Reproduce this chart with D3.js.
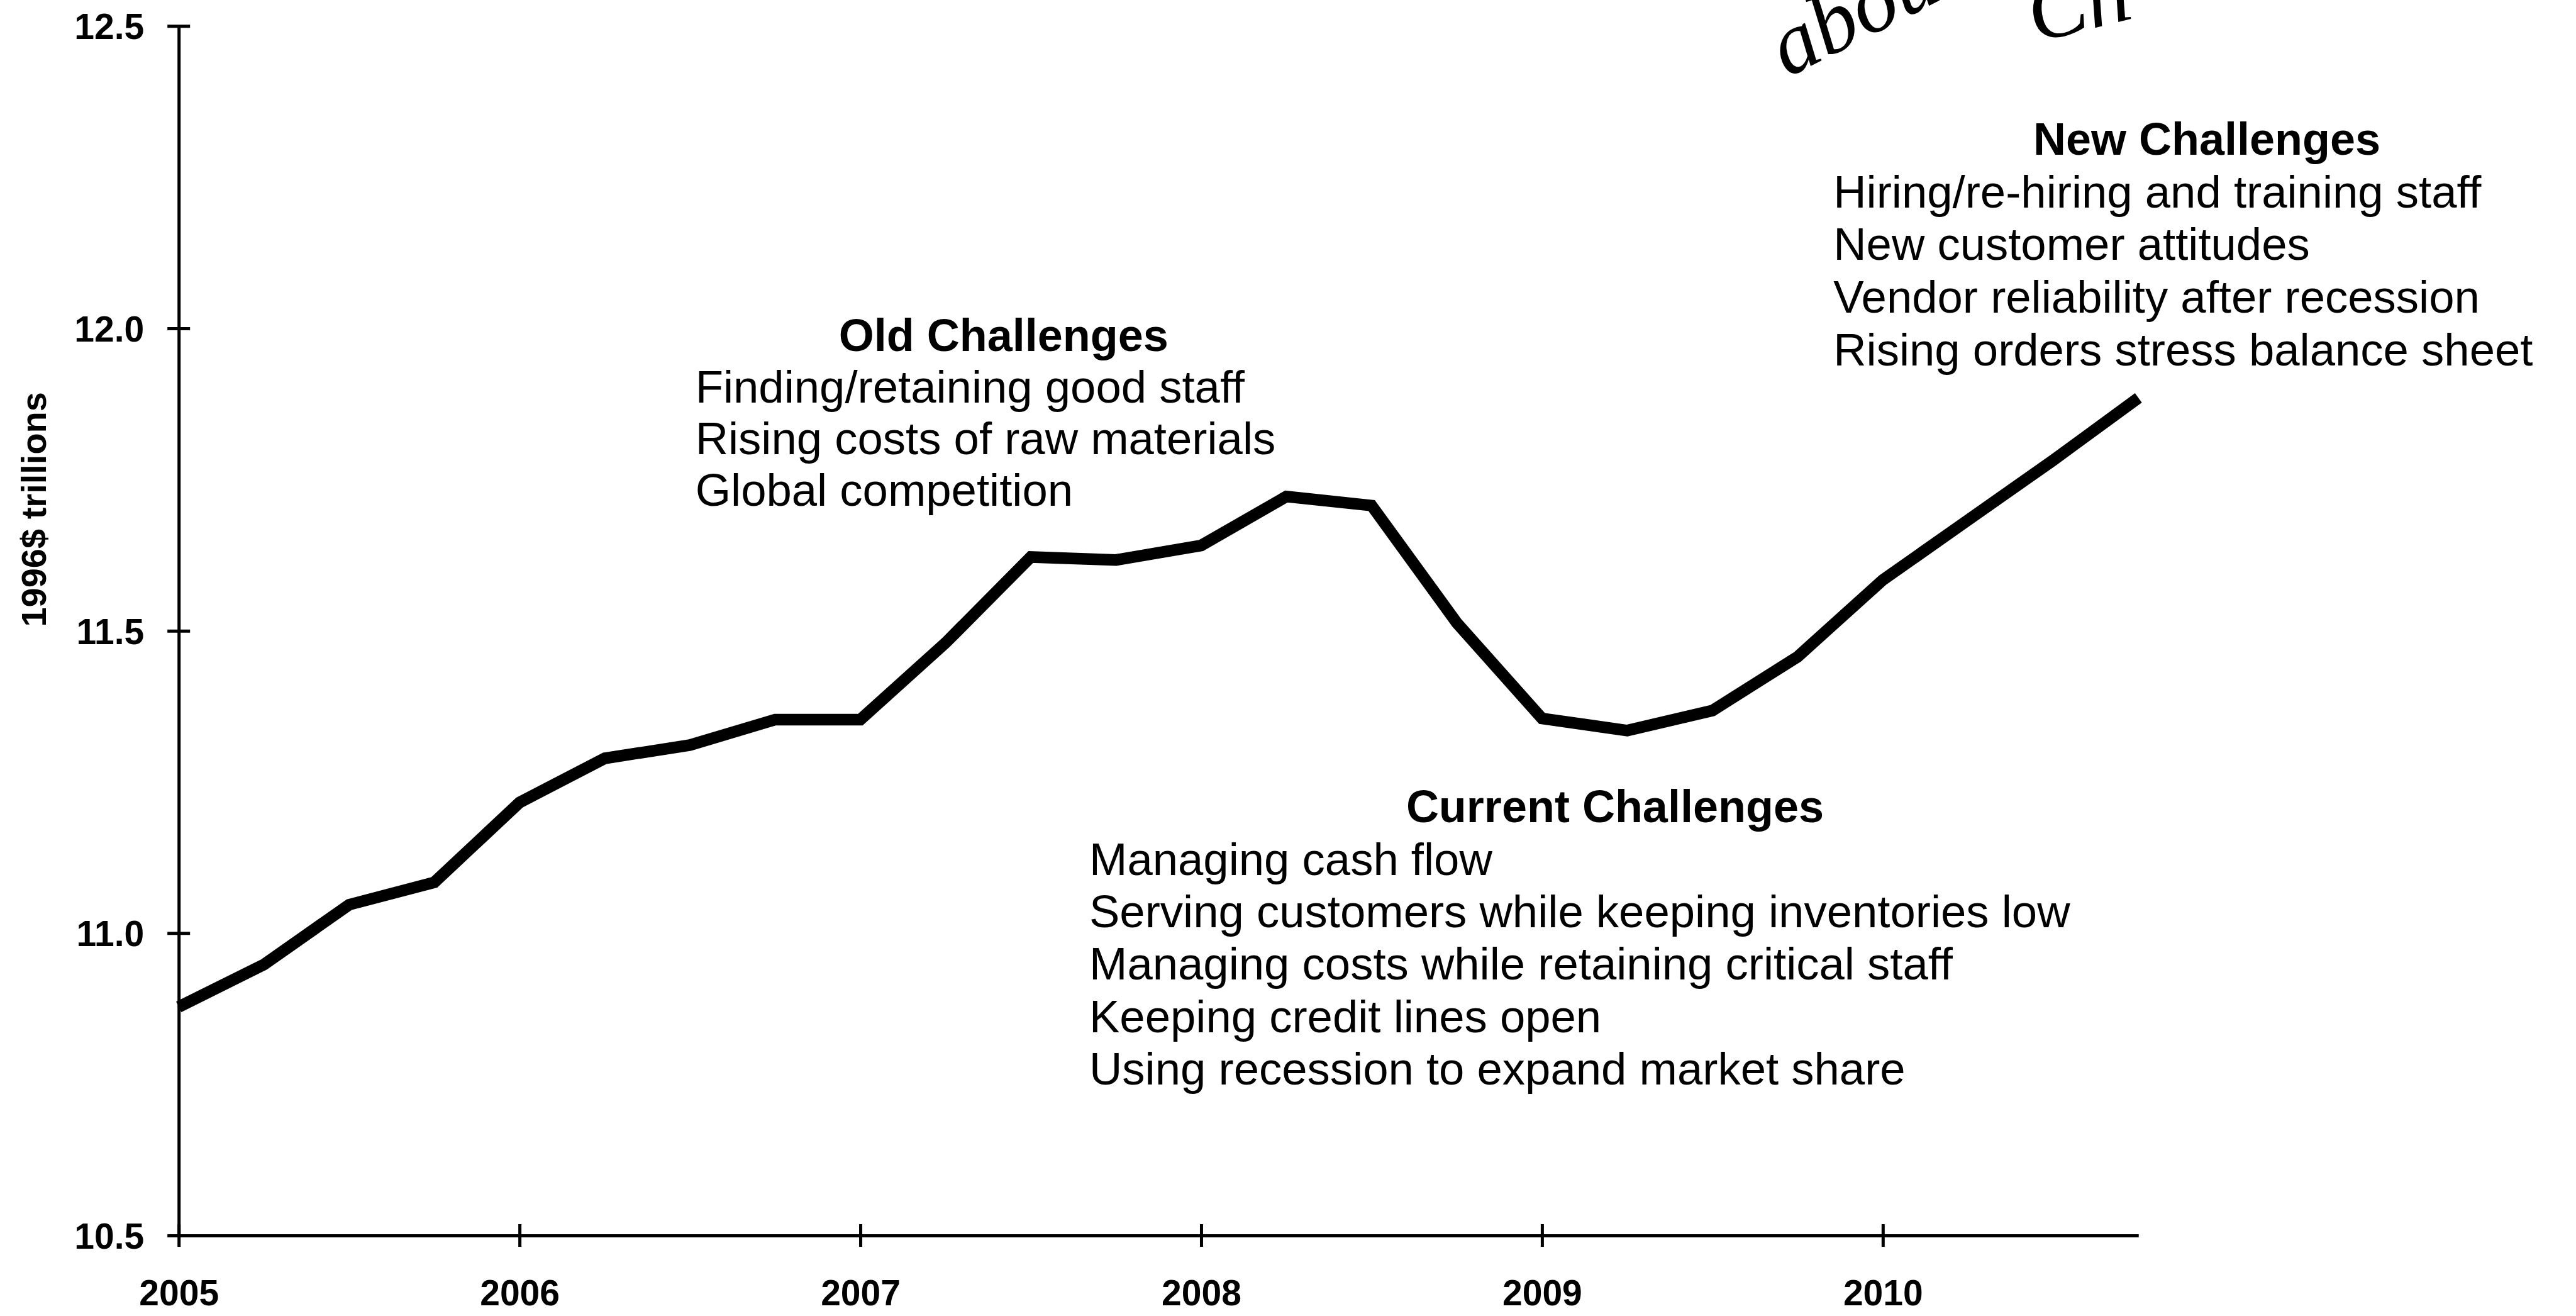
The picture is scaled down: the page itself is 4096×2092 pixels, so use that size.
<!DOCTYPE html>
<html>
<head>
<meta charset="utf-8">
<script src="https://cdn.jsdelivr.net/npm/d3@7"></script>
<style>
  html, body { margin:0; padding:0; background:#fff; }
  svg { display:block; }
</style>
</head>
<body>
<div class="viz"></div>
<script>
const width = 4096;
const height = 2092;
const S = 0.725; // reference px -> window px

// quarterly real GDP, 1996$ trillions
const quarters = [
  2005.00, 2005.25, 2005.50, 2005.75,
  2006.00, 2006.25, 2006.50, 2006.75,
  2007.00, 2007.25, 2007.50, 2007.75,
  2008.00, 2008.25, 2008.50, 2008.75,
  2009.00, 2009.25, 2009.50, 2009.75,
  2010.00, 2010.25, 2010.50, 2010.75
];
const gdp = [
  10.878, 10.948, 11.047, 11.084,
  11.216, 11.289, 11.311, 11.353,
  11.353, 11.480, 11.622, 11.617,
  11.641, 11.722, 11.707, 11.513,
  11.355, 11.335, 11.368, 11.457,
  11.584, 11.683, 11.782, 11.885
];
const yearTicks = [2005, 2006, 2007, 2008, 2009, 2010];
const valueTicks = [10.5, 11.0, 11.5, 12.0, 12.5];
const yTitle = '1996$ trillions';

const oldTitle = 'Old Challenges';
const oldItems = [
  'Finding/retaining good staff',
  'Rising costs of raw materials',
  'Global competition'
];
const currentTitle = 'Current Challenges';
const currentItems = [
  'Managing cash flow',
  'Serving customers while keeping inventories low',
  'Managing costs while retaining critical staff',
  'Keeping credit lines open',
  'Using recession to expand market share'
];
const newTitle = 'New Challenges';
const newItems = [
  'Hiring/re-hiring and training staff',
  'New customer attitudes',
  'Vendor reliability after recession',
  'Rising orders stress balance sheet'
];
const scribble = ['about', 'Ch'];

const font = '"Liberation Sans", Arial, Helvetica, sans-serif';

const x = d3.scaleLinear()
  .domain([2005, 2010.75])
  .range([392*S, 4690*S]);

const y = d3.scaleLinear()
  .domain([10.5, 12.5])
  .range([2709*S, 57*S]);

const svg = d3.select('.viz')
  .append('svg')
    .attr('width', width)
    .attr('height', height)
    .attr('viewBox', `0 0 ${width} ${height}`);

svg.append('rect')
  .attr('width', width)
  .attr('height', height)
  .attr('fill', '#fff');

const tickHalf = 18;
const axisWidth = 5;

// y axis
const yAxis = svg.append('g')
  .attr('class', 'y-axis')
  .attr('transform', `translate(${x(2005)},0)`)
  .call(d3.axisLeft(y).tickValues(valueTicks).tickSize(tickHalf).tickSizeOuter(0)
    .tickFormat(d3.format('.1f')));

yAxis.select('.domain')
  .attr('stroke', '#000')
  .attr('stroke-width', axisWidth);
yAxis.selectAll('.tick line')
  .attr('x1', -tickHalf)
  .attr('x2', tickHalf)
  .attr('stroke', '#000')
  .attr('stroke-width', axisWidth);
yAxis.selectAll('.tick text')
  .attr('x', -55)
  .attr('dy', '0.36em')
  .attr('fill', '#000')
  .style('font-family', font)
  .style('font-weight', 'bold')
  .style('font-size', '57px');

// x axis
const xAxis = svg.append('g')
  .attr('class', 'x-axis')
  .attr('transform', `translate(0,${y(10.5)})`)
  .call(d3.axisBottom(x).tickValues(yearTicks).tickSize(tickHalf).tickSizeOuter(0)
    .tickFormat(d3.format('d')));

xAxis.select('.domain')
  .attr('stroke', '#000')
  .attr('stroke-width', axisWidth);
xAxis.selectAll('.tick line')
  .attr('y1', -tickHalf)
  .attr('y2', tickHalf)
  .attr('stroke', '#000')
  .attr('stroke-width', axisWidth);
xAxis.selectAll('.tick text')
  .attr('y', 111)
  .attr('dy', 0)
  .attr('fill', '#000')
  .style('font-family', font)
  .style('font-weight', 'bold')
  .style('font-size', '57px');

// axis title
svg.append('text')
  .attr('transform', `translate(${100*S},${1117*S}) rotate(-90)`)
  .attr('text-anchor', 'middle')
  .style('font-family', font)
  .style('font-weight', 'bold')
  .style('font-size', '56px')
  .text(yTitle);

// the GDP line
const line = d3.line()
  .x((d, i) => x(quarters[i]))
  .y(d => y(d));

svg.append('path')
  .datum(gdp)
  .attr('class', 'gdp')
  .attr('d', line)
  .attr('fill', 'none')
  .attr('stroke', '#000')
  .attr('stroke-width', 18.5)
  .attr('stroke-linejoin', 'miter')
  .attr('stroke-linecap', 'butt');

// annotation blocks
function addBlock(title, items, opts){
  const g = svg.append('g').attr('class', 'note');
  g.append('text')
    .attr('x', opts.titleX)
    .attr('y', opts.top)
    .attr('text-anchor', 'middle')
    .style('font-family', font)
    .style('font-weight', 'bold')
    .style('font-size', '72px')
    .text(title);
  g.selectAll('text.item')
    .data(items)
    .enter()
    .append('text')
      .attr('class', 'item')
      .attr('x', opts.left)
      .attr('y', (d, i) => opts.top + (i+1)*opts.step)
      .style('font-family', font)
      .style('font-size', '72.5px')
      .text(d => d);
}

addBlock(oldTitle, oldItems, { left: 1525*S, titleX: 2201*S, top: 770*S, step: 113*S });
addBlock(currentTitle, currentItems, { left: 2389*S, titleX: 3542*S, top: 1803*S, step: 115*S });
addBlock(newTitle, newItems, { left: 4021*S, titleX: 4840*S, top: 339*S, step: 115.5*S });

// handwritten note, running off the top edge as in the scan
const penFont = '"Liberation Serif", "DejaVu Serif", serif';
svg.append('text')
  .attr('transform', 'translate(2842,124) rotate(-27)')
  .style('font-family', penFont)
  .style('font-style', 'italic')
  .style('font-size', '140px')
  .attr('fill', '#000')
  .text(scribble[0]);

svg.append('text')
  .attr('transform', 'translate(3236,68) rotate(-14)')
  .style('font-family', penFont)
  .style('font-style', 'italic')
  .style('font-size', '140px')
  .attr('fill', '#000')
  .text(scribble[1]);
</script>
</body>
</html>
